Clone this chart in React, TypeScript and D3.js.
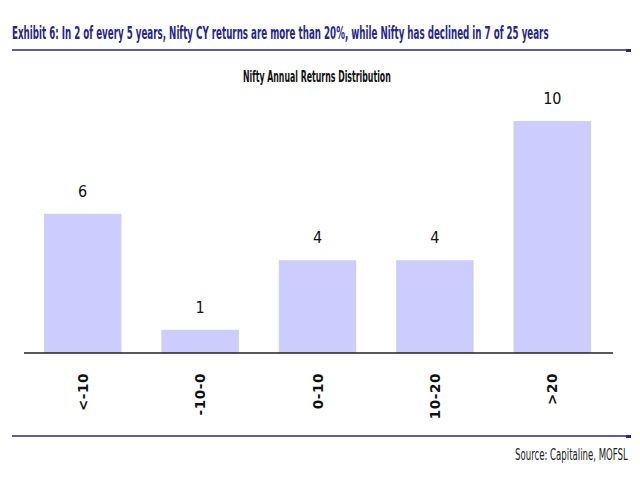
import React, { useEffect, useRef } from "react";
import * as d3 from "d3";

const categories = ["<-10", "-10-0", "0-10", "10-20", ">20"];
const counts = [6, 1, 4, 4, 10];

const W = 640;
const H = 480;
const NAVY = "#27278a";
const FONT = "'Liberation Sans Narrow', 'DejaVu Sans Condensed', 'Open Sans', sans-serif";

// squeeze a text horizontally so it fills `width` like the original condensed font
const squeeze = (sel: any, x0: number, y0: number, width: number) => {
  const node = sel.node() as SVGTextElement;
  const natural = node.getComputedTextLength() || width;
  const k = Math.min(1, width / natural);
  sel.attr("x", 0).attr("y", 0).attr("transform", `translate(${x0},${y0}) scale(${k},1)`);
};

const App = () => {
  const ref = useRef<SVGSVGElement | null>(null);

  useEffect(() => {
    const svg = d3.select(ref.current);
    svg.selectAll("*").remove();

    svg.append("rect").attr("width", W).attr("height", H).attr("fill", "#fff");

    // header
    const title = svg
      .append("text")
      .attr("font-family", FONT)
      .attr("font-weight", "bold")
      .attr("font-size", 17)
      .attr("fill", NAVY)
      .text("Exhibit 6: In 2 of every 5 years, Nifty CY returns are more than 20%, while Nifty has declined in 7 of 25 years");
    squeeze(title, 12, 39, 537);
    svg.append("line").attr("x1", 12).attr("x2", 626).attr("y1", 50).attr("y2", 50).attr("stroke", NAVY).attr("stroke-width", 1.5);
    svg.append("rect").attr("x", 626).attr("y", 49).attr("width", 5).attr("height", 3).attr("fill", NAVY);

    const sub = svg
      .append("text")
      .attr("font-family", FONT)
      .attr("font-weight", "bold")
      .attr("font-size", 15)
      .attr("fill", "#111")
      .text("Nifty Annual Returns Distribution");
    squeeze(sub, 243, 82, 148);

    const x = d3.scaleBand().domain(categories).range([24, 611]).paddingInner(0.34).paddingOuter(0.17);
    const y = d3.scaleLinear().domain([0, 10]).range([353, 121]);

    const g = svg.append("g");
    g.selectAll("rect.bar")
      .data(counts)
      .enter()
      .append("rect")
      .attr("class", "bar")
      .attr("x", (d, i) => x(categories[i])!)
      .attr("width", x.bandwidth())
      .attr("y", (d) => y(d))
      .attr("height", (d) => y(0) - y(d))
      .attr("fill", "#ccccff");

    g.selectAll("text.val")
      .data(counts)
      .enter()
      .append("text")
      .attr("class", "val")
      .attr("x", (d, i) => x(categories[i])! + x.bandwidth() / 2)
      .attr("y", (d) => y(d) - 17)
      .attr("text-anchor", "middle")
      .attr("font-family", FONT)
      .attr("font-size", 16)
      .attr("fill", "#111")
      .text((d) => d);

    // axis line
    svg.append("line").attr("x1", 24).attr("x2", 613).attr("y1", 353).attr("y2", 353).attr("stroke", "#222").attr("stroke-width", 1.5);

    // rotated category labels
    g.selectAll("text.cat")
      .data(categories)
      .enter()
      .append("text")
      .attr("class", "cat")
      .attr("transform", (d) => `translate(${x(d)! + x.bandwidth() / 2 + 5},373) rotate(-90)`)
      .attr("text-anchor", "end")
      .attr("font-family", "'DejaVu Sans', Verdana, sans-serif")
      .attr("font-weight", "bold")
      .attr("font-size", 13.5)
      .attr("letter-spacing", 0.6)
      .attr("fill", "#111")
      .text((d) => d);

    // footer
    svg.append("line").attr("x1", 12).attr("x2", 628).attr("y1", 436).attr("y2", 436).attr("stroke", NAVY).attr("stroke-width", 1.5);
    svg.append("rect").attr("x", 626).attr("y", 435).attr("width", 5).attr("height", 3).attr("fill", NAVY);
    const src = svg
      .append("text")
      .attr("font-family", FONT)
      .attr("font-size", 16)
      .attr("fill", "#222")
      .text("Source: Capitaline, MOFSL");
    squeeze(src, 515, 460, 113);
  }, []);

  return (
    <svg
      ref={ref}
      width={W}
      height={H}
      style={{ position: "absolute", left: 0, top: 0 }}
    />
  );
};

export default App;
